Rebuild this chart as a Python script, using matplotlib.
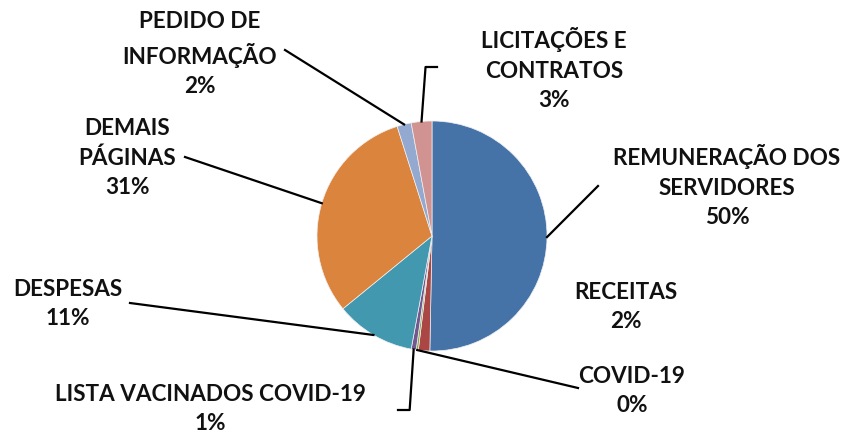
import matplotlib
matplotlib.use("Agg")
import matplotlib.pyplot as plt
import numpy as np

# dados
categorias = ['REMUNERAÇÃO DOS\nSERVIDORES', 'RECEITAS', 'COVID-19',
              'LISTA VACINADOS COVID-19', 'DESPESAS', 'DEMAIS\nPÁGINAS',
              'PEDIDO DE\nINFORMAÇÃO', 'LICITAÇÕES E\nCONTRATOS']
valores = [50.3, 1.6, 0.3, 0.7, 11.2, 31.0, 2.0, 2.9]
rotulos_pct = ['50%', '2%', '0%', '1%', '11%', '31%', '2%', '3%']
cores = ['#4572A7', '#AA4643', '#89A54E', '#71588F', '#4198AF', '#DB843D', '#93A9CF', '#D19392']

plt.rcParams['font.family'] = ['Lato', 'DejaVu Sans']

W, H = 845, 436
fig = plt.figure(figsize=(W / 100, H / 100), dpi=100)
ax = fig.add_axes([0, 0, 1, 1])

cx, cy, r = 432, H - 236, 115
wedges, _ = ax.pie(valores, colors=cores, startangle=90, counterclock=False,
                   center=(cx, cy), radius=r, frame=True,
                   wedgeprops=dict(linewidth=0.5, edgecolor='#f0f0f0'))
ax.set_xlim(0, W)
ax.set_ylim(0, H)
ax.set_aspect('equal')
ax.axis('off')

# posição do texto (centro) e ponto de ligação da linha (pixels da imagem)
texto_pos = [(727, 186), (626, 307), (632, 391), (210, 409),
             (68, 304), (127, 158), (200, 54), (554, 69)]
linha_fim = [(598, 186), None, (578, 388), (398, 410),
             (130, 303), (185, 157), (285, 50), (437, 67)]

for i, w in enumerate(wedges):
    tx, ty = texto_pos[i]
    ax.text(tx, H - ty, categorias[i] + '\n' + rotulos_pct[i], ha='center', va='center',
            fontsize=16.2, fontweight='bold', color='#111111', linespacing=1.5)
    if linha_fim[i] is None:
        continue
    ang = np.deg2rad((w.theta1 + w.theta2) / 2)
    px, py = cx + r * np.cos(ang), cy + r * np.sin(ang)
    ex, ey = linha_fim[i]
    ey = H - ey
    if i == 3:
        pts = [(px, py), (px - 4, ey), (ex, ey)]
    elif i == 7:
        pts = [(px, py), (px + 4, ey), (ex, ey)]
    else:
        pts = [(px, py), (ex, ey)]
    xs, ys = zip(*pts)
    ax.plot(xs, ys, color='black', lw=1.6)

fig.savefig('out.png', dpi=100)
